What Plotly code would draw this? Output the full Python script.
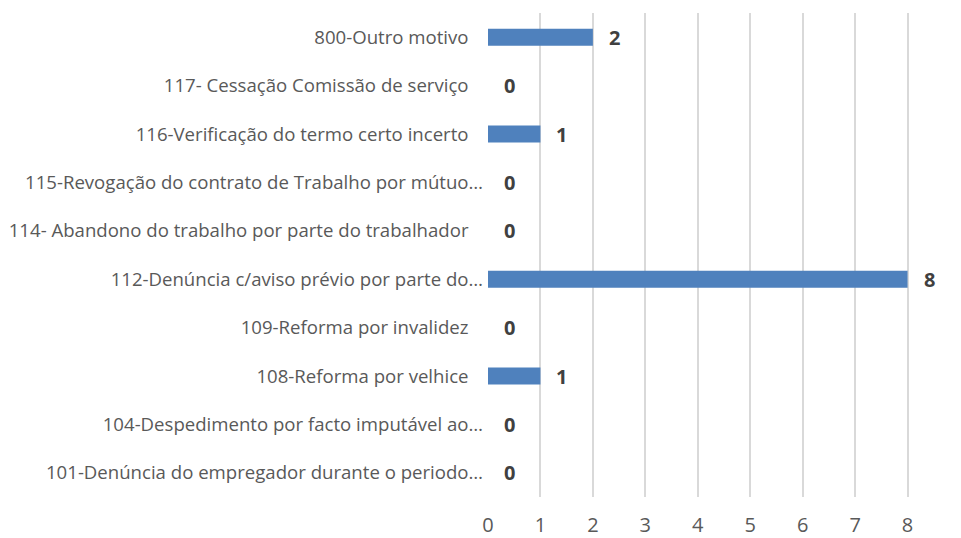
import plotly.graph_objects as go

categories = [
    "800-Outro motivo",
    "117- Cessação Comissão de serviço",
    "116-Verificação do termo certo incerto",
    "115-Revogação do contrato de Trabalho por mútuo…",
    "114- Abandono do trabalho por parte do trabalhador",
    "112-Denúncia c/aviso prévio por parte do…",
    "109-Reforma por invalidez",
    "108-Reforma por velhice",
    "104-Despedimento por facto imputável ao…",
    "101-Denúncia do empregador durante o periodo…",
]
values = [2, 0, 1, 0, 0, 8, 0, 1, 0, 0]
x_ticks = [0, 1, 2, 3, 4, 5, 6, 7, 8, 9]

pad = "\u00a0\u00a0\u00a0"
tick_text = [c if c.endswith("…") else c + pad for c in categories]

fig = go.Figure()
fig.add_trace(go.Bar(
    y=categories, x=values, orientation="h",
    marker=dict(color="#4F81BD", line=dict(width=0)),
    width=0.35, showlegend=False, hoverinfo="x+y",
))

for c, v in zip(categories, values):
    fig.add_annotation(
        x=v, y=c, text=f"<b>{v}</b>", showarrow=False,
        xanchor="left", xshift=14,
        font=dict(family="Open Sans", size=20, color="#404040"),
    )

fig.update_layout(
    width=953, height=530,
    margin=dict(l=480, r=1, t=5, b=41, autoexpand=False),
    plot_bgcolor="white", paper_bgcolor="white",
    font=dict(family="Open Sans", color="#595959"),
)
fig.update_xaxes(
    range=[0, 9], tickvals=x_ticks, ticktext=[str(t) for t in x_ticks],
    showgrid=True, gridcolor="#d9d9d9", gridwidth=1.5,
    zeroline=False, showline=False,
    tickfont=dict(family="Open Sans", size=20, color="#595959"),
    ticklabelstandoff=14, ticklabeloverflow="allow",
)
fig.update_yaxes(
    autorange="reversed", tickvals=categories, ticktext=tick_text,
    showgrid=False, showline=False, zeroline=False,
    tickfont=dict(family="Open Sans", size=18.6, color="#595959"),
    ticklabelstandoff=4,
)

fig.write_html("out.html")
